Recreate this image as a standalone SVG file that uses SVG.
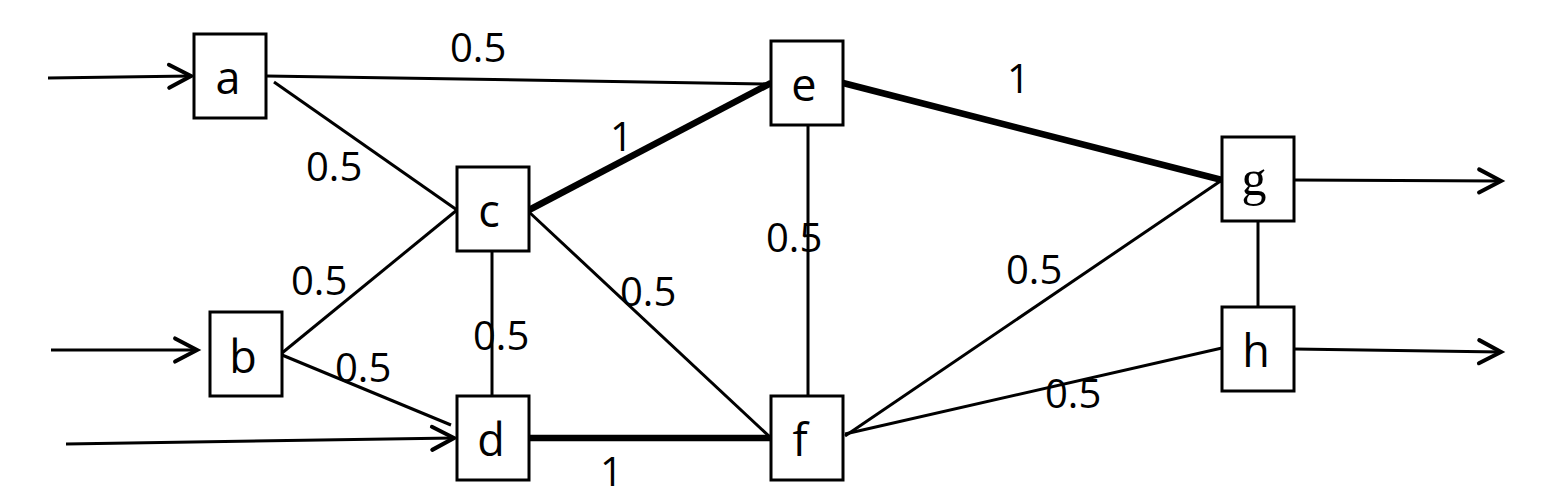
<svg xmlns="http://www.w3.org/2000/svg" width="1557" height="495" viewBox="0 0 1557 495">
<defs>
<marker id="arr" markerUnits="userSpaceOnUse" markerWidth="30" markerHeight="30" viewBox="-22 -12 26 24" refX="0" refY="0" orient="auto">
<path d="M-19,-10 L0,0 L-19,10" fill="none" stroke="#000" stroke-width="3.5" stroke-linecap="round" stroke-linejoin="miter"/>
</marker>
</defs>
<style>
.box{fill:#fff;stroke:#000;stroke-width:3}
.lbl{font-family:"Open Sans","Noto Sans",sans-serif;font-size:45px;fill:#000;text-anchor:middle}
.w{font-family:"Open Sans","Noto Sans",sans-serif;font-size:40px;fill:#000}
.e{stroke:#000;stroke-width:3;fill:none}
.t{stroke:#000;stroke-width:6.5;fill:none}
</style>
<rect width="1557" height="495" fill="#fff"/>
<g id="connectors">
<line class="e" x1="48" y1="78" x2="191" y2="76" marker-end="url(#arr)"/>
<line class="e" x1="51" y1="350" x2="197" y2="350" marker-end="url(#arr)"/>
<line class="e" x1="66" y1="444" x2="454" y2="438" marker-end="url(#arr)"/>
<line class="e" x1="266" y1="76" x2="771" y2="84"/>
<line class="e" x1="274" y1="82" x2="457" y2="210"/>
<line class="e" x1="282" y1="353" x2="457" y2="210"/>
<line class="e" x1="282" y1="355" x2="451" y2="425"/>
<line class="e" x1="492" y1="251" x2="492" y2="396"/>
<line class="t" x1="529" y1="210" x2="771" y2="83"/>
<line class="e" x1="529" y1="212" x2="771" y2="438"/>
<line class="e" x1="808" y1="125" x2="808" y2="396"/>
<line class="t" x1="843" y1="83" x2="1222" y2="180"/>
<line class="t" x1="529" y1="438" x2="771" y2="438"/>
<line class="e" x1="845" y1="436" x2="1222" y2="180"/>
<line class="e" x1="845" y1="434" x2="1222" y2="348"/>
<line class="e" x1="1258" y1="221" x2="1258" y2="307"/>
<line class="e" x1="1294" y1="180" x2="1501" y2="181" marker-end="url(#arr)"/>
<line class="e" x1="1294" y1="349" x2="1501" y2="352" marker-end="url(#arr)"/>
</g>
<g id="weights">
<text class="w" x="450" y="62">0.5</text>
<text class="w" x="306" y="181">0.5</text>
<text class="w" x="610" y="151">1</text>
<text class="w" x="291" y="295">0.5</text>
<text class="w" x="335" y="382">0.5</text>
<text class="w" x="473" y="350">0.5</text>
<text class="w" x="620" y="306">0.5</text>
<text class="w" x="766" y="252">0.5</text>
<text class="w" x="1007" y="93">1</text>
<text class="w" x="1006" y="284">0.5</text>
<text class="w" x="1045" y="408">0.5</text>
<text class="w" x="600" y="486">1</text>
</g>
<g id="node-a"><rect class="box" x="194" y="34" width="72" height="84"/><text class="lbl" x="228" y="94">a</text></g>
<g id="node-b"><rect class="box" x="210" y="312" width="72" height="84"/><text class="lbl" x="243" y="373">b</text></g>
<g id="node-c"><rect class="box" x="457" y="167" width="72" height="84"/><text class="lbl" x="489" y="227">c</text></g>
<g id="node-d"><rect class="box" x="457" y="396" width="72" height="84"/><text class="lbl" x="491" y="456">d</text></g>
<g id="node-e"><rect class="box" x="771" y="41" width="72" height="84"/><text class="lbl" x="804" y="101">e</text></g>
<g id="node-f"><rect class="box" x="771" y="396" width="72" height="84"/><text class="lbl" x="800" y="456">f</text></g>
<g id="node-g"><rect class="box" x="1222" y="137" width="72" height="84"/><text class="lbl" x="1254" y="195" style="font-family:'Liberation Serif',serif;font-size:50px">g</text></g>
<g id="node-h"><rect class="box" x="1222" y="307" width="72" height="84"/><text class="lbl" x="1256" y="367">h</text></g>
</svg>
